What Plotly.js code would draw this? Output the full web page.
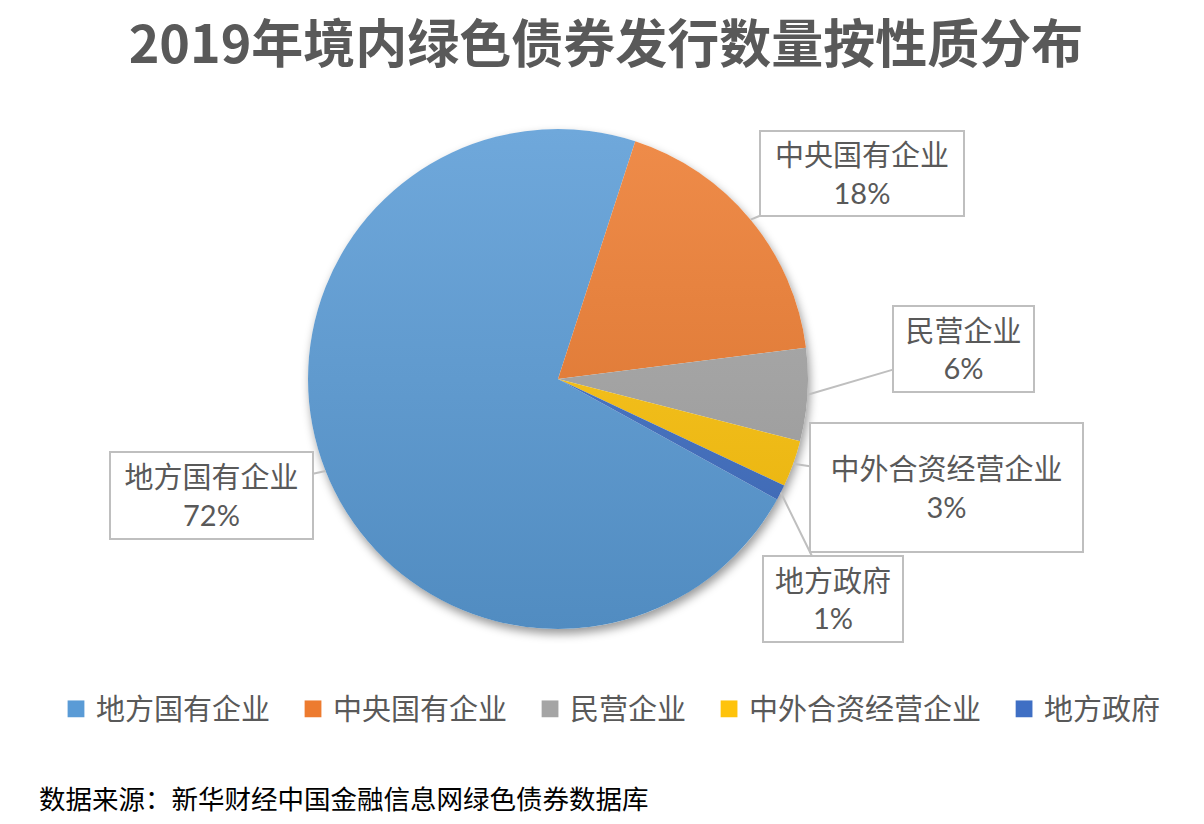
<!DOCTYPE html>
<html>
<head>
<meta charset="utf-8">
<script src="https://cdn.plot.ly/plotly-3.0.1.min.js"></script>
<style>
  html, body { margin: 0; padding: 0; background: #fff; }
  #wrap { position: relative; width: 1204px; height: 824px; }
  #chart { position: absolute; left: 0; top: 0; width: 1204px; height: 824px; z-index: 1; }
  #pieShadow { position: absolute; border-radius: 50%; background: #fff; z-index: 0;
               box-shadow: 2px 5px 10px rgba(0,0,0,0.4); }
</style>
</head>
<body>
<div id="wrap">
  <div id="pieShadow"></div>
  <div id="chart"></div>
</div>
<script>
// data
var labels = ['地方国有企业', '中央国有企业', '民营企业', '中外合资经营企业', '地方政府'];
var shares = [72, 18, 6, 3, 1];
var colors = ['#5a9bd6', '#ed7b2f', '#a5a5a5', '#fec30b', '#3f6fc4'];

var W = 1204, H = 824;
// pie placement in pixels
var cx = 558, cy = 379, R = 250;
var rot = 118.8;

// callout box centres and sizes, same order as labels
var boxes = [
  {x: 211.5, y: 495.5, w: 203, h: 87},
  {x: 862,   y: 173.5, w: 204, h: 85},
  {x: 963.5, y: 349,   w: 141, h: 86},
  {x: 946.5, y: 487.5, w: 273, h: 129},
  {x: 833,   y: 599,   w: 140, h: 86}
];

// shadow disc sits under the (transparent) plot
var sh = document.getElementById('pieShadow');
sh.style.left = (cx - R) + 'px'; sh.style.top = (cy - R) + 'px';
sh.style.width = (2 * R) + 'px'; sh.style.height = (2 * R) + 'px';

var total = shares.reduce(function(a, b){ return a + b; }, 0);
var txtFont = {family: 'Lato, "Noto Sans CJK SC", sans-serif', size: 29, color: '#595959'};

var annotations = [];
var cum = 0;
shares.forEach(function(v, i){
  var mid = (rot + (cum + v / 2) / total * 360) * Math.PI / 180;
  cum += v;
  var tx = cx + R * Math.sin(mid);
  var ty = cy - R * Math.cos(mid);
  var b = boxes[i];
  annotations.push({
    xref: 'paper', yref: 'paper',
    x: tx / W, y: 1 - ty / H,
    ax: b.x - tx, ay: b.y - ty,
    text: labels[i] + '<br>' + Math.round(v / total * 100) + '%',
    showarrow: true, arrowhead: 0, arrowwidth: 2, arrowcolor: '#bfbfbf',
    standoff: 0,
    bgcolor: '#ffffff', bordercolor: '#bfbfbf', borderwidth: 2, borderpad: 0,
    width: b.w - 2, height: b.h - 2,
    align: 'center', valign: 'middle',
    font: txtFont
  });
});

annotations.push({
  xref: 'paper', yref: 'paper',
  x: 37 / W, y: 1 - 797 / H, xanchor: 'left', yanchor: 'middle',
  showarrow: false,
  text: '数据来源：新华财经中国金融信息网绿色债券数据库',
  font: {family: '"Noto Sans CJK SC", sans-serif', size: 26.5, color: '#000000'}
});

var trace = {
  type: 'pie',
  labels: labels,
  values: shares,
  sort: false,
  direction: 'clockwise',
  rotation: rot,
  marker: {colors: colors, line: {width: 0}},
  textinfo: 'none',
  hoverinfo: 'label+percent',
  domain: {x: [(cx - R) / W, (cx + R) / W], y: [1 - (cy + R) / H, 1 - (cy - R) / H]}
};

var layout = {
  width: W, height: H,
  margin: {l: 0, r: 0, t: 0, b: 0},
  paper_bgcolor: 'rgba(0,0,0,0)',
  title: {
    text: '<b>2019年境内绿色债券发行数量按性质分布</b>',
    x: 606 / W, xanchor: 'center',
    y: 1 - 45 / H, yanchor: 'middle',
    font: {family: '"Noto Sans CJK SC", sans-serif', size: 52, color: '#595959'}
  },
  showlegend: true,
  legend: {
    orientation: 'h',
    x: 611 / W, xanchor: 'center',
    y: 1 - 709 / H, yanchor: 'middle',
    font: txtFont,
    traceorder: 'normal'
  },
  annotations: annotations
};

// lighten (+) / darken (-) a hex colour
function shade(hex, amt) {
  var n = parseInt(hex.slice(1), 16);
  var c = [(n >> 16) & 255, (n >> 8) & 255, n & 255].map(function(x){
    x = amt > 0 ? x + (255 - x) * amt : x * (1 + amt);
    return Math.round(x);
  });
  return 'rgb(' + c.join(',') + ')';
}

function svgEl(tag, attrs) {
  var el = document.createElementNS('http://www.w3.org/2000/svg', tag);
  for (var k in attrs) el.setAttribute(k, attrs[k]);
  return el;
}

Plotly.newPlot('chart', [trace], layout, {displayModeBar: false, staticPlot: true}).then(function(gd){
  var svg = gd.querySelector('.main-svg');
  var defs = svg.querySelector('defs') || svg.insertBefore(svgEl('defs', {}), svg.firstChild);

  // vertical gradient per slice, lighter on top (pie spans cy-R .. cy+R)
  colors.forEach(function(col, i){
    var g = svgEl('linearGradient', {id: 'sliceGrad' + i, gradientUnits: 'userSpaceOnUse',
                                     x1: 0, x2: 0, y1: cy - R, y2: cy + R});
    g.appendChild(svgEl('stop', {offset: 0, 'stop-color': shade(col, 0.13)}));
    g.appendChild(svgEl('stop', {offset: 1, 'stop-color': shade(col, -0.1)}));
    defs.appendChild(g);
  });

  svg.querySelectorAll('.pielayer .slice path.surface').forEach(function(p, i){
    p.style.fill = 'url(#sliceGrad' + i + ')';
  });

  // wider gaps and bigger squares in the legend (legend lives in the top svg)
  var extra = 18;
  var items = gd.querySelectorAll('.legend .traces');
  items.forEach(function(g, i){
    var m = /translate\(([-\d.e]+)[ ,]+([-\d.e]+)\)/.exec(g.getAttribute('transform') || '');
    if (m) {
      var nx = parseFloat(m[1]) + (i - (items.length - 1) / 2) * extra;
      g.setAttribute('transform', 'translate(' + nx + ',' + m[2] + ')');
    }
    var p = g.querySelector('.legendpoints path');
    if (p) p.setAttribute('transform', (p.getAttribute('transform') || '') + ' scale(1.4)');
  });
  var sb = gd.querySelector('.legend .scrollbox');
  if (sb) sb.removeAttribute('clip-path');
});
</script>
</body>
</html>
